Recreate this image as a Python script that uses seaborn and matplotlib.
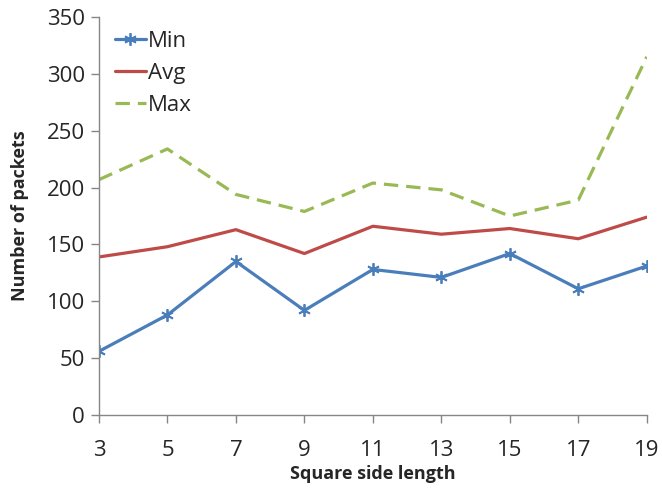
import numpy as np
import pandas as pd
import seaborn as sns
import matplotlib.pyplot as plt

side_length = [3, 5, 7, 9, 11, 13, 15, 17, 19]
min_packets = [56, 88, 135, 92, 128, 121, 142, 111, 131]
avg_packets = [139, 148, 163, 142, 166, 159, 164, 155, 174]
max_packets = [207, 234, 194, 179, 204, 198, 175, 189, 315]

df = pd.DataFrame({"side": side_length, "Min": min_packets,
                   "Avg": avg_packets, "Max": max_packets})

sns.set_style("white")
plt.rcParams['font.family'] = ['Open Sans', 'DejaVu Sans']

fig = plt.figure(figsize=(6.62, 4.88), dpi=100)
ax = fig.add_axes([0.1495, 0.1496, 0.8275, 0.8155])

sns.lineplot(x="side", y="Min", data=df, ax=ax, color="#4A7EBB", lw=2.3,
             marker=(6, 2, 0), markersize=9, markeredgewidth=1.3,
             markeredgecolor="#4A7EBB", label="Min")
sns.lineplot(x="side", y="Avg", data=df, ax=ax, color="#BE4B48", lw=2.3,
             label="Avg")
sns.lineplot(x="side", y="Max", data=df, ax=ax, color="#98B954", lw=2.3,
             dashes=(4.5, 2.5), label="Max")

ax.set_xlim(3, 19)
ax.set_ylim(0, 350)
ax.set_xticks(side_length)
ax.set_yticks(range(0, 351, 50))
ax.tick_params(axis="both", labelsize=16, length=6, width=1, color="#868686",
               direction="out", bottom=True, left=True)
ax.tick_params(axis="x", pad=12)
ax.tick_params(axis="y", pad=4)
sns.despine(ax=ax)
for s in ["left", "bottom"]:
    ax.spines[s].set_color("#868686")
    ax.spines[s].set_linewidth(1)

ax.set_xlabel("Square side length", fontsize=13, fontweight="bold", labelpad=3)
ax.set_ylabel("Number of packets", fontsize=13, fontweight="bold", labelpad=13)

ax.legend(loc="upper left", bbox_to_anchor=(0.0, 1.005), frameon=False,
          fontsize=16, handlelength=1.4, handletextpad=0.1, labelspacing=0.5,
          borderaxespad=0.3)

fig.savefig("out.png", dpi=100)
